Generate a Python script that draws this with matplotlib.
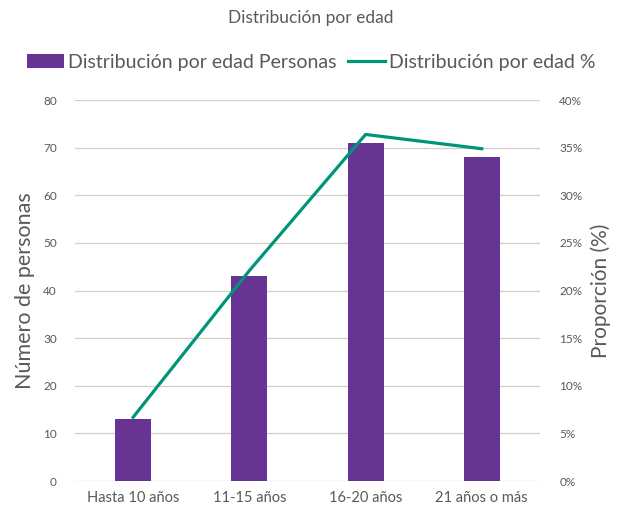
import numpy as np
import matplotlib.pyplot as plt
from matplotlib.ticker import FuncFormatter

plt.rcParams['font.family'] = ['Lato', 'DejaVu Sans']

# datos
categorias = ['Hasta 10 años', '11-15 años', '16-20 años', '21 años o más']
personas = [13, 43, 71, 68]
porcentaje = [6.7, 22.1, 36.4, 34.9]

color_barra = '#673494'
color_linea = '#009479'
color_texto = '#595959'
color_grid = '#d8ccc6'

fig = plt.figure(figsize=(6.17, 5.19), dpi=100)
ax = fig.add_axes([0.1216, 0.0732, 0.7534, 0.7338])
x = np.arange(len(categorias))

ax.bar(x, personas, width=0.31, color=color_barra, zorder=2,
       label='Distribución por edad Personas')
ax.set_ylim(0, 80)
ax.set_xlim(-0.5, len(categorias) - 0.5)
ax.set_yticks(range(0, 81, 10))
ax.yaxis.grid(True, color=color_grid, linewidth=0.9, zorder=0)
ax.set_axisbelow(True)
ax.set_xticks(x)
ax.set_xticklabels(categorias, fontsize=10.5, color=color_texto)
ax.tick_params(axis='y', length=0, pad=13, labelsize=8.5, labelcolor=color_texto)
ax.tick_params(axis='x', length=0, pad=7)
ax.set_ylabel('Número de personas', fontsize=15.5, color=color_texto, labelpad=6)
for s in ax.spines.values():
    s.set_visible(False)

ax2 = ax.twinx()
ax2.plot(x, porcentaje, color=color_linea, linewidth=2.3, zorder=3,
         label='Distribución por edad %')
ax2.set_ylim(0, 40)
ax2.set_yticks(range(0, 41, 5))
ax2.yaxis.set_major_formatter(FuncFormatter(lambda v, p: f'{v:.0f}%'))
ax2.tick_params(axis='y', length=0, pad=14, labelsize=8.5, labelcolor=color_texto)
ax2.set_ylabel('Proporción (%)', fontsize=15, color=color_texto, labelpad=6)
for s in ax2.spines.values():
    s.set_visible(False)

fig.text(0.503, 0.965, 'Distribución por edad', ha='center', va='center',
         fontsize=12.5, color=color_texto)

h1, l1 = ax.get_legend_handles_labels()
h2, l2 = ax2.get_legend_handles_labels()
fig.legend(h1 + h2, l1 + l2, loc='center', bbox_to_anchor=(0.505, 0.88), ncol=2,
           frameon=False, fontsize=14, handlelength=1.9, handletextpad=0.2,
           columnspacing=0.6, labelcolor=color_texto)

fig.savefig('out.png', dpi=100)
